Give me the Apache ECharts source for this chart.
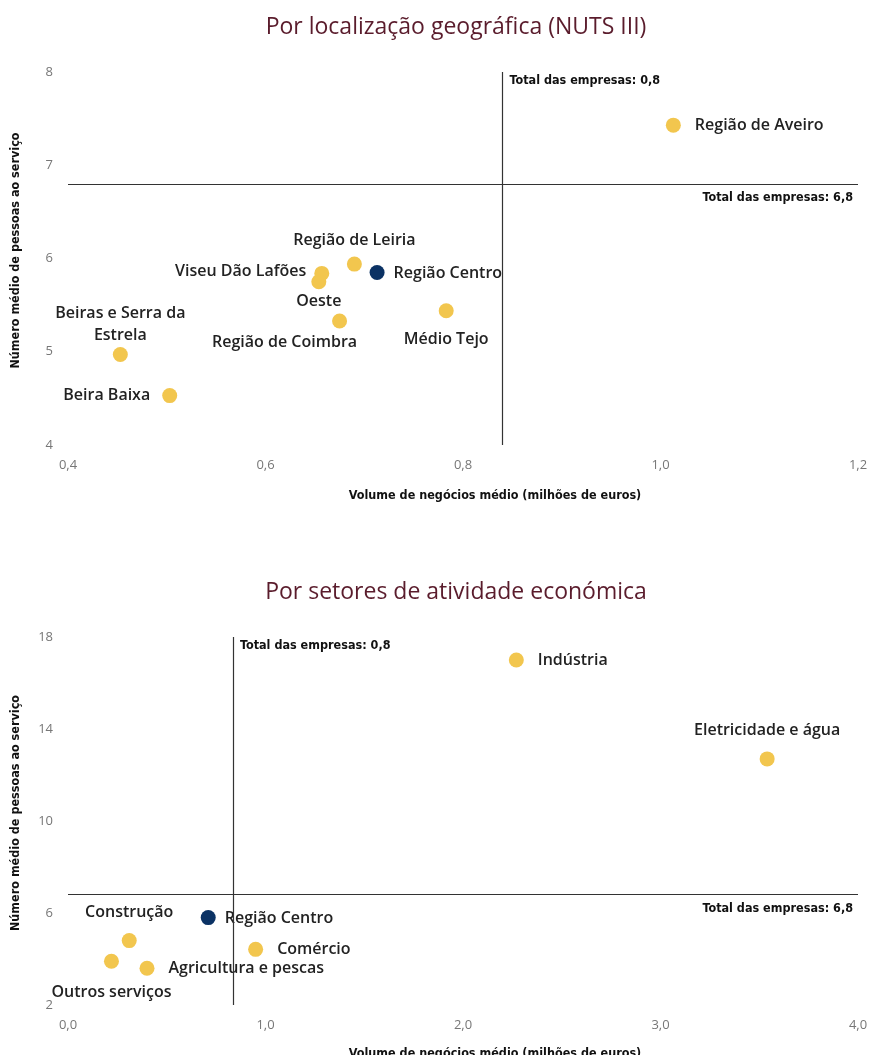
<!DOCTYPE html>
<html>
<head>
<meta charset="utf-8">
<script src="https://cdn.jsdelivr.net/npm/echarts@6/dist/echarts.min.js"></script>
<style>
	html, body { margin: 0; padding: 0; background: #fff; }
	#chart { width: 869px; height: 1055px; }
</style>
</head>
<body>
<div id="chart"></div>
<script>
// dados - NUTS III
var regioes = ['Região de Aveiro', 'Região Centro', 'Região de Leiria', 'Viseu Dão Lafões', 'Oeste',
	'Região de Coimbra', 'Médio Tejo', 'Beiras e Serra da Estrela', 'Beira Baixa'];
var regioesVolume = [1.013, 0.713, 0.690, 0.657, 0.654, 0.675, 0.783, 0.453, 0.503];
var regioesPessoas = [7.43, 5.85, 5.94, 5.84, 5.75, 5.33, 5.44, 4.97, 4.53];

// dados - setores
var setores = ['Indústria', 'Eletricidade e água', 'Região Centro', 'Construção', 'Comércio',
	'Agricultura e pescas', 'Outros serviços'];
var setoresVolume = [2.27, 3.54, 0.71, 0.31, 0.95, 0.40, 0.22];
var setoresPessoas = [17.0, 12.7, 5.8, 4.8, 4.42, 3.6, 3.9];

// total das empresas
var totalVolume = [0.84, 0.835];
var totalPessoas = [6.8, 6.8];
var totalTexto = ['0,8', '6,8'];

var amarelo = '#f2c64e',
	azul = '#0b3264',
	condensada = '"Liberation Sans Narrow", "DejaVu Sans Condensed", sans-serif';

// posicao das etiquetas
var posicoes = {
	'Região de Aveiro': { position: 'right', distance: 14 },
	'Região Centro': { position: 'right', distance: 9, offset: [0, 1] },
	'Região de Leiria': { position: 'top', distance: 5 },
	'Viseu Dão Lafões': { position: 'left', distance: 8, offset: [0, -2] },
	'Oeste': { position: 'bottom', distance: 1 },
	'Região de Coimbra': { position: 'bottom', distance: 3, offset: [-55, 0] },
	'Médio Tejo': { position: 'bottom', distance: 10 },
	'Beiras e Serra da Estrela': { position: 'top', distance: 1, formatter: 'Beiras e Serra da\nEstrela' },
	'Beira Baixa': { position: 'left', distance: 12 },
	'Indústria': { position: 'right', distance: 14 },
	'Eletricidade e água': { position: 'top', distance: 10 },
	'Construção': { position: 'top', distance: 10 },
	'Comércio': { position: 'right', distance: 14 },
	'Agricultura e pescas': { position: 'right', distance: 14 },
	'Outros serviços': { position: 'bottom', distance: 13 }
};

function pontos(nomes, xs, ys) {
	return nomes.map(function(n, i) {
		var p = posicoes[n] || { position: 'right' };
		return {
			name: n,
			value: [xs[i], ys[i]],
			itemStyle: { color: n == 'Região Centro' ? azul : amarelo, opacity: 1 },
			label: {
				show: true,
				position: p.position,
				distance: p.distance,
				offset: p.offset || [0, 0],
				formatter: p.formatter || '{b}',
				lineHeight: 22
			}
		};
	});
}

function totais(i, xr, yr) {
	return {
		silent: true,
		symbol: 'none',
		lineStyle: { color: '#333', width: 1.2, type: 'solid' },
		label: { show: false },
		data: [
			[{ coord: [totalVolume[i], yr.min] }, { coord: [totalVolume[i], yr.max] }],
			[{ coord: [xr.min, totalPessoas[i]] }, { coord: [xr.max, totalPessoas[i]] }]
		]
	};
}

function notas(i, xr, yr) {
	return {
		silent: true,
		symbolSize: 0,
		label: {
			show: true,
			fontFamily: condensada,
			fontWeight: 'bold',
			fontSize: 12.5,
			color: '#111'
		},
		data: [
			{ coord: [totalVolume[i], yr.max], label: { position: 'right', distance: 7, offset: [0, 9], formatter: 'Total das empresas: ' + totalTexto[0] } },
			{ coord: [xr.max, totalPessoas[i]], label: { position: 'left', distance: 5, offset: [0, 14], formatter: 'Total das empresas: ' + totalTexto[1] } }
		]
	};
}

function eixoX(idx, min, max, interval, gap) {
	return {
		gridIndex: idx,
		type: 'value',
		min: min, max: max, interval: interval,
		name: 'Volume de negócios médio (milhões de euros)',
		nameLocation: 'middle',
		nameGap: gap,
		nameTextStyle: { fontFamily: condensada, fontWeight: 'bold', fontSize: 12.5, color: '#111', padding: [0, 0, 0, 64] },
		axisLine: { show: false },
		axisTick: { show: false },
		splitLine: { show: false },
		axisLabel: {
			margin: 14,
			color: '#777',
			fontFamily: 'Open Sans',
			fontSize: 13,
			formatter: function(v) { return v.toFixed(1).replace('.', ','); }
		}
	};
}

function eixoY(idx, min, max, interval) {
	return {
		gridIndex: idx,
		type: 'value',
		min: min, max: max, interval: interval,
		name: 'Número médio de pessoas ao serviço',
		nameLocation: 'middle',
		nameGap: 46,
		nameTextStyle: { fontFamily: condensada, fontWeight: 'bold', fontSize: 12.5, color: '#111', padding: [0, 0, 0, 16] },
		axisLine: { show: false },
		axisTick: { show: false },
		splitLine: { show: false },
		axisLabel: { margin: 15, color: '#777', fontFamily: 'Open Sans', fontSize: 13 }
	};
}

var r1x = { min: 0.4, max: 1.2 }, r1y = { min: 4, max: 8 },
	r2x = { min: 0, max: 4 }, r2y = { min: 2, max: 18 };

var serieBase = {
	type: 'scatter',
	symbolSize: 15,
	label: { fontFamily: 'Open Sans', fontWeight: 600, fontSize: 16, color: '#222' },
	emphasis: { disabled: true }
};

var tituloEstilo = { color: '#5a1c2c', fontSize: 23, fontWeight: 'normal', fontFamily: 'Open Sans' };

var chart = echarts.init(document.getElementById('chart'));
chart.setOption({
	animation: false,
	textStyle: { fontFamily: 'Open Sans' },
	title: [
		{ text: 'Por localização geográfica (NUTS III)', left: 451, textAlign: 'center', top: 11, textStyle: tituloEstilo },
		{ text: 'Por setores de atividade económica', left: 451, textAlign: 'center', top: 576, textStyle: tituloEstilo }
	],
	grid: [
		{ left: 68, right: 11, top: 72, height: 373, outerBoundsMode: 'none', containLabel: false },
		{ left: 68, right: 11, top: 637, height: 368, outerBoundsMode: 'none', containLabel: false }
	],
	xAxis: [eixoX(0, 0.4, 1.2, 0.2, 44), eixoX(1, 0, 4, 1, 42)],
	yAxis: [eixoY(0, 4, 8, 1), eixoY(1, 2, 18, 4)],
	series: [
		Object.assign({}, serieBase, {
			xAxisIndex: 0, yAxisIndex: 0,
			data: pontos(regioes, regioesVolume, regioesPessoas),
			markLine: totais(0, r1x, r1y),
			markPoint: notas(0, r1x, r1y)
		}),
		Object.assign({}, serieBase, {
			xAxisIndex: 1, yAxisIndex: 1,
			data: pontos(setores, setoresVolume, setoresPessoas),
			markLine: totais(1, r2x, r2y),
			markPoint: notas(1, r2x, r2y)
		})
	]
});
</script>
</body>
</html>
